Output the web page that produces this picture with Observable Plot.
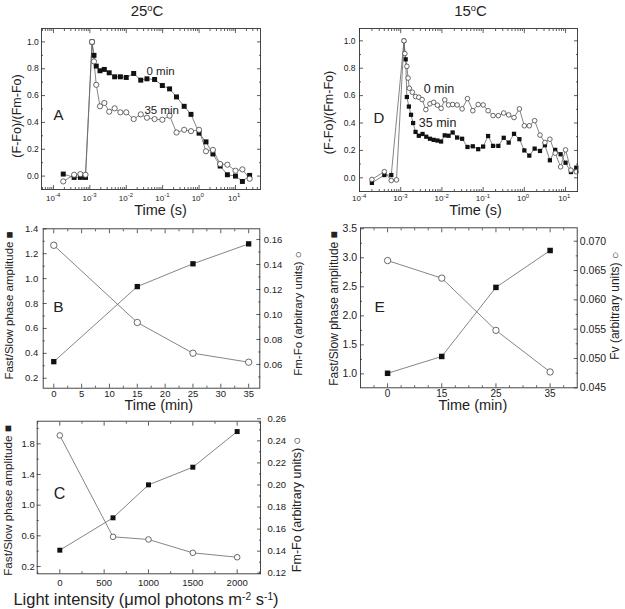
<!DOCTYPE html>
<html><head><meta charset="utf-8">
<script src="https://cdn.jsdelivr.net/npm/d3@7"></script>
<script src="https://cdn.jsdelivr.net/npm/@observablehq/plot@0.6"></script>
<style>
body{margin:0;background:#fff}
#fig{position:relative;width:625px;height:609px;background:#fff;overflow:hidden;font-family:"Liberation Sans",Arial,sans-serif;color:#222}
.t{position:absolute;white-space:nowrap;line-height:1;transform:translate(-50%,-50%)}
.t sup{font-size:0.62em;position:relative;top:-0.5em;vertical-align:0;line-height:0}
</style></head><body><div id="fig"></div>
<script>
// ---------- data ----------
// Panel A (25 oC): time (s) and normalised (F-Fo)/(Fm-Fo)
const timeA = [1.86e-4, 3.7e-4, 5.5e-4, 7.6e-4, 1.15e-3, 1.3e-3, 1.5e-3, 1.9e-3, 2.5e-3, 3.4e-3, 4.8e-3, 6.9e-3, 0.01, 0.016, 0.025, 0.037, 0.06, 0.098, 0.155, 0.24, 0.39, 0.6, 1.0, 1.55, 2.4, 3.8, 6.0, 10, 15.5, 24.5];
const A_0min = [0.015, -0.01, -0.01, -0.01, 1.0, 0.90, 0.82, 0.785, 0.795, 0.77, 0.74, 0.74, 0.735, 0.765, 0.715, 0.725, 0.72, 0.675, 0.65, 0.59, 0.52, 0.46, 0.32, 0.255, 0.165, 0.075, 0.01, 0.0, -0.04, 0.005];
const A_35min = [-0.04, 0.01, 0.015, 0.01, 1.0, 0.855, 0.68, 0.52, 0.545, 0.48, 0.505, 0.475, 0.475, 0.425, 0.46, 0.435, 0.425, 0.42, 0.45, 0.325, 0.345, 0.335, 0.345, 0.185, 0.195, 0.09, 0.085, 0.04, 0.05, -0.02];

// Panel D (15 oC)
const timeD_0min = [2.0e-4, 4.0e-4, 5.9e-4, 7.9e-4, 1.2e-3, 1.26e-3, 1.41e-3, 1.51e-3, 1.62e-3, 1.91e-3, 2.29e-3, 2.75e-3, 3.31e-3, 4.07e-3, 5.13e-3, 6.31e-3, 7.76e-3, 9.55e-3, 0.0117, 0.0145, 0.0182, 0.0234, 0.0309, 0.0417, 0.0562, 0.0759, 0.1, 0.132, 0.174, 0.234, 0.316, 0.417, 0.562, 0.759, 1.0, 1.32, 1.78, 2.40, 3.16, 4.17, 5.62, 7.59, 10, 13.5, 18.2];
const D_0min = [-0.012, 0.045, -0.02, -0.015, 1.0, 0.907, 0.814, 0.728, 0.654, 0.625, 0.593, 0.588, 0.571, 0.498, 0.54, 0.551, 0.53, 0.507, 0.569, 0.532, 0.535, 0.532, 0.503, 0.578, 0.49, 0.535, 0.532, 0.49, 0.454, 0.454, 0.473, 0.459, 0.44, 0.503, 0.38, 0.38, 0.417, 0.312, 0.258, 0.282, 0.18, 0.08, 0.204, 0.056, 0.044];
const timeD_35min = [2.0e-4, 4.0e-4, 5.9e-4, 1.2e-3, 1.32e-3, 1.41e-3, 1.58e-3, 1.78e-3, 2.0e-3, 2.29e-3, 2.75e-3, 3.39e-3, 4.17e-3, 5.13e-3, 6.31e-3, 7.76e-3, 9.55e-3, 0.0117, 0.0145, 0.0182, 0.0234, 0.0309, 0.0417, 0.0562, 0.0759, 0.1, 0.132, 0.174, 0.234, 0.316, 0.417, 0.562, 0.759, 1.0, 1.32, 1.78, 2.40, 3.16, 4.17, 5.62, 7.59, 10, 13.5, 18.2];
const D_35min = [-0.037, 0.02, 0.02, 1.0, 0.865, 0.59, 0.52, 0.46, 0.40, 0.335, 0.307, 0.32, 0.30, 0.285, 0.277, 0.272, 0.265, 0.31, 0.307, 0.331, 0.294, 0.285, 0.225, 0.23, 0.209, 0.228, 0.305, 0.233, 0.233, 0.292, 0.257, 0.321, 0.282, 0.2, 0.162, 0.213, 0.196, 0.238, 0.128, 0.204, 0.172, 0.11, 0.042, 0.074];

// Panel B (25 oC) vs time (min)
const timeB = [0, 15, 25, 35];
const B_amplitude = [0.333, 0.936, 1.119, 1.279];
const B_FmFo = [0.1554, 0.0936, 0.069, 0.0618];

// Panel E (15 oC) vs time (min)
const timeE = [0, 15, 25, 35];
const E_amplitude = [1.01, 1.30, 2.49, 3.126];
const E_Fv = [0.0667, 0.0637, 0.0548, 0.0477];

// Panel C vs light intensity
const lightC = [0, 600, 1000, 1500, 2000];
const C_amplitude = [0.413, 0.835, 1.265, 1.495, 1.96];
const C_FmFo = [0.2449, 0.153, 0.1506, 0.1385, 0.1345];

// tick values
const decades = [1e-4, 1e-3, 1e-2, 1e-1, 1, 10];
const fracMajor = [0, 0.2, 0.4, 0.6, 0.8, 1.0];
const fracMinor = [-0.1, 0.1, 0.3, 0.5, 0.7, 0.9];

// ---------- helpers ----------
const fig = document.getElementById("fig");
const FONT = '"Liberation Sans", Arial, Helvetica, sans-serif';
const INK = "#222", LINE = "#666", FRAME = "#333";
const nolab = () => "";
const seq = (a, b, s) => d3.range(Math.round((b - a) / s) + 1).map(i => +(a + i * s).toFixed(6));
const within = (arr, dom) => arr.filter(v => v >= Math.min(...dom) && v <= Math.max(...dom));

function tk(dim, anchor, ticks, size, extra = {}) {
  const f = dim === "x" ? Plot.axisX : Plot.axisY;
  return f(ticks, {anchor, tickSize: -size, tickPadding: 0, tickFormat: nolab, label: null, strokeWidth: 0.8, stroke: FRAME, ...extra});
}
function xAxes(major, minor, fmt, fs, gap) {
  return [
    tk("x", "bottom", major, 4, fmt ? {tickFormat: fmt, fontSize: fs, tickPadding: gap + 4} : {}),
    tk("x", "top", major, 4),
    tk("x", "bottom", minor, 2),
    tk("x", "top", minor, 2)
  ];
}
function yAxes(anchor, major, minor, fmt, fs, gap) {
  return [
    tk("y", anchor, major, 4, fmt ? {tickFormat: fmt, fontSize: fs, tickPadding: gap + 4} : {}),
    tk("y", anchor, minor, 2)
  ];
}
function label(text, o) { return Plot.text([text], {text: d => d, fill: INK, ...o}); }
function vlabel(text, o) { return label(text, {rotate: -90, textAnchor: "middle", lineAnchor: "middle", ...o}); }

function panel({left, top, width, height, frame, x, y, marks}) {
  const svg = Plot.plot({
    width, height,
    marginLeft: frame[0] - left, marginRight: left + width - frame[1],
    marginTop: frame[2] - top, marginBottom: top + height - frame[3],
    x: {...x, axis: null}, y: {...y, axis: null},
    style: {fontFamily: FONT, color: INK, background: "transparent", overflow: "visible"},
    marks: [...marks, Plot.frame({stroke: FRAME, strokeWidth: 0.9})]
  });
  svg.style.position = "absolute";
  svg.style.left = left + "px";
  svg.style.top = top + "px";
  fig.appendChild(svg);
}
function html(s, cx, cy, fs) {
  const d = document.createElement("div");
  d.className = "t"; d.innerHTML = s;
  d.style.left = cx + "px"; d.style.top = cy + "px"; d.style.fontSize = fs + "px";
  fig.appendChild(d);
}
function logMinor(dom) {
  return within(d3.range(-5, 2).flatMap(k => [2, 3, 4, 5, 6, 7, 8, 9].map(m => +(m * 10 ** k).toPrecision(3))), dom);
}
function decadeLabels(dy) {
  return [
    Plot.text(decades, {x: d => d, text: () => "10", frameAnchor: "bottom", dy, dx: 1.5, textAnchor: "end", fontSize: 8, fill: INK}),
    Plot.text(decades, {x: d => d, text: d => String(Math.round(Math.log10(d))), frameAnchor: "bottom", dy: dy - 3.5, dx: 1.5, textAnchor: "start", fontSize: 6, fill: INK})
  ];
}

// ---------- Panel A ----------
const dataA = timeA.map((t, i) => ({t, v0: A_0min[i], v35: A_35min[i]}));
const domA = [4.7e-5, 48.7];
panel({
  left: 0, top: 0, width: 312, height: 222, frame: [41, 260, 28, 189],
  x: {type: "log", domain: domA}, y: {domain: [-0.1, 1.1]},
  marks: [
    ...xAxes(decades, logMinor(domA)),
    ...decadeLabels(11),
    ...yAxes("left", fracMajor, fracMinor, d3.format(".1f"), 8.5, 2.7),
    ...yAxes("right", fracMajor, fracMinor),
    Plot.line(dataA, {x: "t", y: "v0", stroke: LINE, strokeWidth: 0.8}),
    Plot.line(dataA, {x: "t", y: "v35", stroke: LINE, strokeWidth: 0.8}),
    Plot.dot(dataA, {x: "t", y: "v0", symbol: "square", r: 2.8, fill: "#111"}),
    Plot.dot(dataA, {x: "t", y: "v35", r: 2.6, fill: "#fff", stroke: "#444", strokeWidth: 0.8}),
    label("0 min", {x: 0.036, y: 0.78, textAnchor: "start", fontSize: 11.5}),
    label("35 min", {x: 0.0316, y: 0.49, textAnchor: "start", fontSize: 11.5}),
    label("A", {frameAnchor: "left", textAnchor: "start", dx: 12, dy: 6.5, fontSize: 15}),
    vlabel("(F-Fo)/(Fm-Fo)", {frameAnchor: "left", dx: -25, dy: 7, fontSize: 12.5}),
    label("Time (s)", {frameAnchor: "bottom", dx: 9.5, dy: 25, fontSize: 14.5})
  ]
});

// ---------- Panel D ----------
const dataD0 = timeD_0min.map((t, i) => ({t, v: D_0min[i]}));
const dataD35 = timeD_35min.map((t, i) => ({t, v: D_35min[i]}));
const domD = [1.0e-4, 19.5];
panel({
  left: 312, top: 0, width: 313, height: 222, frame: [359, 577, 28, 191],
  x: {type: "log", domain: domD}, y: {domain: [-0.1, 1.09]},
  marks: [
    ...xAxes(decades, logMinor(domD)),
    ...decadeLabels(9.5),
    ...yAxes("left", fracMajor, fracMinor, d3.format(".1f"), 8.5, 4),
    ...yAxes("right", fracMajor, fracMinor),
    Plot.line(dataD35, {x: "t", y: "v", stroke: LINE, strokeWidth: 0.8}),
    Plot.line(dataD0, {x: "t", y: "v", stroke: LINE, strokeWidth: 0.8}),
    Plot.dot(dataD35, {x: "t", y: "v", symbol: "square", r: 2.4, fill: "#111"}),
    Plot.dot(dataD0, {x: "t", y: "v", r: 2.3, fill: "#fff", stroke: "#444", strokeWidth: 0.8}),
    label("0 min", {x: 3.6e-3, y: 0.645, textAnchor: "start", fontSize: 12.5}),
    label("35 min", {x: 2.75e-3, y: 0.397, textAnchor: "start", fontSize: 12.5}),
    label("D", {frameAnchor: "left", textAnchor: "start", dx: 14, dy: 8, fontSize: 15}),
    vlabel("(F-Fo)/(Fm-Fo)", {frameAnchor: "left", dx: -31, dy: 2.5, fontSize: 12.5}),
    label("Time (s)", {frameAnchor: "bottom", dx: 7, dy: 23.5, fontSize: 14.5})
  ]
});

// ---------- Panel B ----------
const bL = [0.12, 1.4], bR = [0.041, 0.1686];
const bMap = d3.scaleLinear(bR, bL);
const dataB = timeB.map((t, i) => ({t, amp: B_amplitude[i], fm: bMap(B_FmFo[i])}));
panel({
  left: 0, top: 222, width: 312, height: 195, frame: [42.7, 259.3, 228.3, 387.7],
  x: {domain: [-1.9, 37]}, y: {domain: bL},
  marks: [
    ...xAxes(seq(0, 35, 5), seq(2.5, 32.5, 5), d3.format("d"), 9.5, 2),
    ...yAxes("left", seq(0.2, 1.4, 0.2), seq(0.3, 1.3, 0.2), d3.format(".1f"), 9.5, 5),
    ...yAxes("right", seq(0.06, 0.16, 0.02).map(bMap), seq(0.05, 0.15, 0.02).map(bMap), d => d3.format(".2f")(bMap.invert(d)), 9.5, 4),
    Plot.line(dataB, {x: "t", y: "amp", stroke: LINE, strokeWidth: 0.8}),
    Plot.line(dataB, {x: "t", y: "fm", stroke: LINE, strokeWidth: 0.8}),
    Plot.dot(dataB, {x: "t", y: "amp", symbol: "square", r: 3.0, fill: "#111"}),
    Plot.dot(dataB, {x: "t", y: "fm", r: 3.2, fill: "#fff", stroke: "#444", strokeWidth: 0.8}),
    label("B", {frameAnchor: "left", textAnchor: "start", dx: 10, dy: -1.3, fontSize: 15.5}),
    vlabel("Fast/Slow phase amplitude \u25A0", {frameAnchor: "left", dx: -33.7, dy: -3, fontSize: 11.5}),
    vlabel("Fm-Fo (arbitrary units) \u25CB", {frameAnchor: "right", dx: 38.4, dy: 5, fontSize: 11.5}),
    label("Time (min)", {frameAnchor: "bottom", dx: 7.3, dy: 22, fontSize: 14.5})
  ]
});

// ---------- Panel E ----------
const eL = [0.76, 3.517], eR = [0.045, 0.07229];
const eMap = d3.scaleLinear(eR, eL);
const dataE = timeE.map((t, i) => ({i, amp: E_amplitude[i], fv: eMap(E_Fv[i])}));
panel({
  left: 312, top: 222, width: 313, height: 195, frame: [360, 576.7, 227.3, 387.3],
  x: {domain: [-0.5, 3.5]}, y: {domain: eL},
  marks: [
    ...xAxes([0, 1, 2, 3], [-0.25, 0.25, 0.5, 0.75, 1.25, 1.5, 1.75, 2.25, 2.5, 2.75, 3.25], i => String(timeE[i]), 10, 2.5),
    ...yAxes("left", seq(1, 3.5, 0.5), seq(1.25, 3.25, 0.5), d3.format(".1f"), 10.5, 3.3),
    ...yAxes("right", seq(0.045, 0.07, 0.005).map(eMap), seq(0.0475, 0.0675, 0.005).map(eMap), d => d3.format(".3f")(eMap.invert(d)), 10.5, 2.6),
    Plot.line(dataE, {x: "i", y: "amp", stroke: LINE, strokeWidth: 0.8}),
    Plot.line(dataE, {x: "i", y: "fv", stroke: LINE, strokeWidth: 0.8}),
    Plot.dot(dataE, {x: "i", y: "amp", symbol: "square", r: 3.1, fill: "#111"}),
    Plot.dot(dataE, {x: "i", y: "fv", r: 3.2, fill: "#fff", stroke: "#444", strokeWidth: 0.8}),
    label("E", {frameAnchor: "left", textAnchor: "start", dx: 14, dy: -1, fontSize: 15.5}),
    vlabel("Fast/Slow phase amplitude \u25A0", {frameAnchor: "left", dx: -26.7, dy: 0.7, fontSize: 12}),
    vlabel("Fv (arbitrary units) \u25CB", {frameAnchor: "right", dx: 38.3, dy: -2, fontSize: 12}),
    label("Time (min)", {frameAnchor: "bottom", dx: 4, dy: 22, fontSize: 14.5})
  ]
});

// ---------- Panel C ----------
const cL = [0.105, 2.095], cR = [0.1195, 0.2578];
const cMap = d3.scaleLinear(cR, cL);
const dataC = lightC.map((l, i) => ({l, amp: C_amplitude[i], fm: cMap(C_FmFo[i])}));
panel({
  left: 0, top: 417, width: 312, height: 175, frame: [36.7, 260, 420.7, 573.3],
  x: {domain: [-255, 2263]}, y: {domain: cL},
  marks: [
    ...xAxes(seq(0, 2000, 500), seq(-250, 1750, 500).concat([2250]), d3.format("d"), 9.5, 5),
    ...yAxes("left", seq(0.2, 1.8, 0.4), seq(0.4, 2.0, 0.4), d3.format(".1f"), 9.5, 2.4),
    ...yAxes("right", seq(0.12, 0.26, 0.02).filter(v => v <= cR[1] + 0.003).map(cMap), seq(0.13, 0.25, 0.02).map(cMap), d => d3.format(".2f")(cMap.invert(d)), 9.5, 7),
    Plot.line(dataC, {x: "l", y: "amp", stroke: LINE, strokeWidth: 0.8}),
    Plot.line(dataC, {x: "l", y: "fm", stroke: LINE, strokeWidth: 0.8}),
    Plot.dot(dataC, {x: "l", y: "amp", symbol: "square", r: 2.8, fill: "#111"}),
    Plot.dot(dataC, {x: "l", y: "fm", r: 2.8, fill: "#fff", stroke: "#444", strokeWidth: 0.8}),
    label("C", {frameAnchor: "left", textAnchor: "start", dx: 16.6, dy: -3.5, fontSize: 16}),
    vlabel("Fast/Slow phase amplitude \u25A0", {frameAnchor: "left", dx: -28.7, dy: 3, fontSize: 11.7}),
    vlabel("Fm-Fo (arbitrary units) \u25CB", {frameAnchor: "right", dx: 36.7, dy: 7, fontSize: 12.5})
  ]
});

// ---------- titles and outer labels ----------
html("25<sup>o</sup>C", 147, 10, 15);
html("15<sup>o</sup>C", 470.5, 10, 15);
html("Light intensity (\u03BCmol photons m<sup>-2</sup> s<sup>-1</sup>)", 146, 599, 16.5);
</script></body></html>
